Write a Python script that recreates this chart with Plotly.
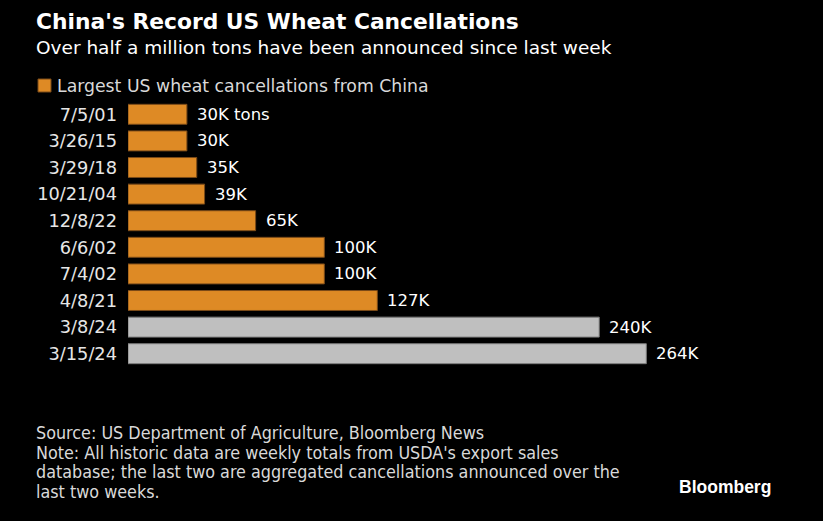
import plotly.graph_objects as go

dates = ["7/5/01", "3/26/15", "3/29/18", "10/21/04", "12/8/22", "6/6/02", "7/4/02", "4/8/21", "3/8/24", "3/15/24"]
values = [30, 30, 35, 39, 65, 100, 100, 127, 240, 264]
labels = ["30K tons", "30K", "35K", "39K", "65K", "100K", "100K", "127K", "240K", "264K"]
is_recent = [False] * 8 + [True] * 2

ORANGE = "#DE8A25"
ORANGE_EDGE = "#7A4A18"
GRAY = "#BFBFBF"
GRAY_EDGE = "#7A7A7A"
FONT = "DejaVu Sans"
NOTE_FONT = "DejaVu Sans Condensed"

W, H = 823, 521
ML, MR, MT, MB = 128, 106, 101, 154
PW, PH = W - ML - MR, H - MT - MB


def px(x):
    return (x - ML) / PW


def py(y):
    return 1 - (y - MT) / PH


colors = [GRAY if r else ORANGE for r in is_recent]
edges = [GRAY_EDGE if r else ORANGE_EDGE for r in is_recent]

fig = go.Figure()
fig.add_trace(go.Bar(
    y=dates, x=values, orientation="h",
    marker=dict(color=colors, line=dict(color=edges, width=1)),
    showlegend=False, hoverinfo="x+y",
))

for d, v, lab in zip(dates, values, labels):
    fig.add_annotation(
        x=v, y=d, xref="x", yref="y", text=lab, showarrow=False,
        xanchor="left", yanchor="middle", xshift=8,
        font=dict(color="white", size=16.5, family=FONT),
    )

fig.update_layout(
    width=W, height=H,
    paper_bgcolor="black", plot_bgcolor="black",
    margin=dict(l=ML, r=MR, t=MT, b=MB),
    bargap=0.25,
    xaxis=dict(range=[0, 300], visible=False, showgrid=False, zeroline=False),
    yaxis=dict(autorange="reversed", showgrid=False, zeroline=False, showline=False,
               ticks="", ticklabelstandoff=10,
               tickfont=dict(color="#E6E6E6", size=17.8, family=FONT)),
    font=dict(family=FONT, color="white"),
)

annotations = [
    dict(text="<b>China's Record US Wheat Cancellations</b>", x=34, y=22, size=21.8, color="white"),
    dict(text="Over half a million tons have been announced since last week", x=34, y=48, size=18.5, color="white"),
    dict(text="Largest US wheat cancellations from China", x=55, y=86, size=17.3, color="#D9D9D9"),
    dict(text="Source: US Department of Agriculture, Bloomberg News", x=34, y=432, size=17.8, color="#D9D9D9", fam=NOTE_FONT),
    dict(text="Note: All historic data are weekly totals from USDA's export sales", x=34, y=452, size=17.8, color="#D9D9D9", fam=NOTE_FONT),
    dict(text="database; the last two are aggregated cancellations announced over the", x=34, y=471, size=17.8, color="#D9D9D9", fam=NOTE_FONT),
    dict(text="last two weeks.", x=34, y=491, size=17.8, color="#D9D9D9", fam=NOTE_FONT),
]
for a in annotations:
    fig.add_annotation(
        text=a["text"], xref="paper", yref="paper",
        x=px(a["x"]), y=py(a["y"]),
        xanchor="left", yanchor="middle", showarrow=False,
        font=dict(size=a["size"], color=a["color"], family=a.get("fam", FONT)),
    )

fig.add_annotation(
    text="<b>Bloomberg</b>", xref="paper", yref="paper",
    x=px(773), y=py(487),
    xanchor="right", yanchor="middle", showarrow=False,
    font=dict(size=17.5, color="white", family="Liberation Sans"),
)

fig.add_shape(
    type="rect", xref="paper", yref="paper",
    x0=px(38), x1=px(51), y0=py(92), y1=py(79),
    fillcolor=ORANGE, line=dict(color=ORANGE_EDGE, width=1),
)

fig.write_html(
    "out.html",
    config={"displayModeBar": False},
    post_script="document.body.style.margin='0';document.body.style.background='black';",
)
